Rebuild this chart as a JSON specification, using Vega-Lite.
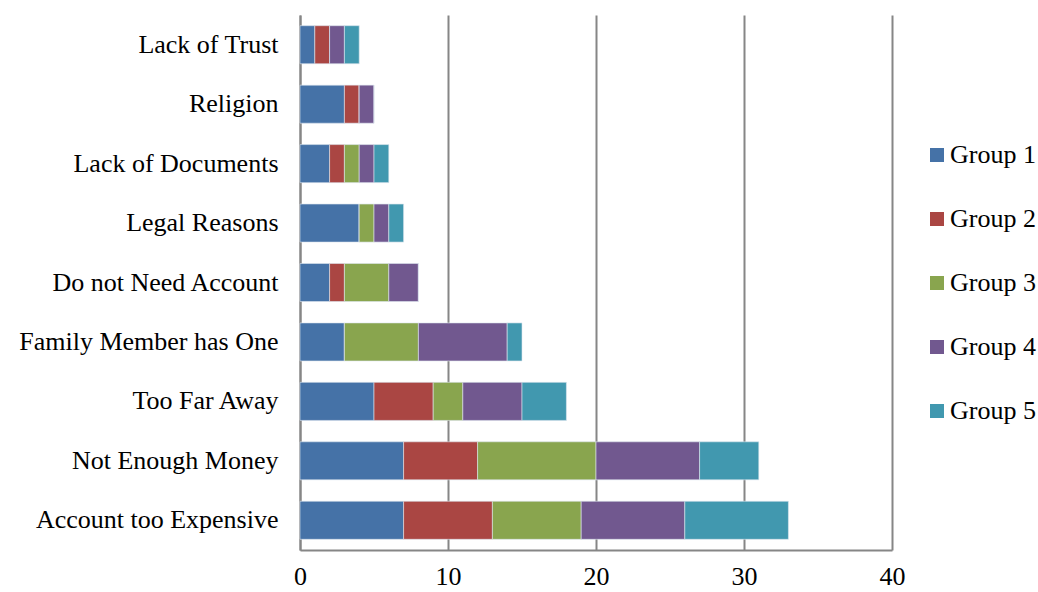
{
  "$schema": "https://vega.github.io/schema/vega-lite/v6.json",
  "autosize": {"type": "none"},
  "padding": {"left": 300, "top": 15, "right": 146, "bottom": 42},
  "width": 592,
  "height": 535,
  "background": "white",
  "config": {
    "font": "Liberation Serif",
    "view": {"stroke": null}
  },
  "data": {
    "values": [
      {"reason": "Lack of Trust", "group": "Group 1", "g": 1, "value": 1},
      {"reason": "Lack of Trust", "group": "Group 2", "g": 2, "value": 1},
      {"reason": "Lack of Trust", "group": "Group 3", "g": 3, "value": 0},
      {"reason": "Lack of Trust", "group": "Group 4", "g": 4, "value": 1},
      {"reason": "Lack of Trust", "group": "Group 5", "g": 5, "value": 1},
      {"reason": "Religion", "group": "Group 1", "g": 1, "value": 3},
      {"reason": "Religion", "group": "Group 2", "g": 2, "value": 1},
      {"reason": "Religion", "group": "Group 3", "g": 3, "value": 0},
      {"reason": "Religion", "group": "Group 4", "g": 4, "value": 1},
      {"reason": "Religion", "group": "Group 5", "g": 5, "value": 0},
      {"reason": "Lack of Documents", "group": "Group 1", "g": 1, "value": 2},
      {"reason": "Lack of Documents", "group": "Group 2", "g": 2, "value": 1},
      {"reason": "Lack of Documents", "group": "Group 3", "g": 3, "value": 1},
      {"reason": "Lack of Documents", "group": "Group 4", "g": 4, "value": 1},
      {"reason": "Lack of Documents", "group": "Group 5", "g": 5, "value": 1},
      {"reason": "Legal Reasons", "group": "Group 1", "g": 1, "value": 4},
      {"reason": "Legal Reasons", "group": "Group 2", "g": 2, "value": 0},
      {"reason": "Legal Reasons", "group": "Group 3", "g": 3, "value": 1},
      {"reason": "Legal Reasons", "group": "Group 4", "g": 4, "value": 1},
      {"reason": "Legal Reasons", "group": "Group 5", "g": 5, "value": 1},
      {"reason": "Do not Need Account", "group": "Group 1", "g": 1, "value": 2},
      {"reason": "Do not Need Account", "group": "Group 2", "g": 2, "value": 1},
      {"reason": "Do not Need Account", "group": "Group 3", "g": 3, "value": 3},
      {"reason": "Do not Need Account", "group": "Group 4", "g": 4, "value": 2},
      {"reason": "Do not Need Account", "group": "Group 5", "g": 5, "value": 0},
      {"reason": "Family Member has One", "group": "Group 1", "g": 1, "value": 3},
      {"reason": "Family Member has One", "group": "Group 2", "g": 2, "value": 0},
      {"reason": "Family Member has One", "group": "Group 3", "g": 3, "value": 5},
      {"reason": "Family Member has One", "group": "Group 4", "g": 4, "value": 6},
      {"reason": "Family Member has One", "group": "Group 5", "g": 5, "value": 1},
      {"reason": "Too Far Away", "group": "Group 1", "g": 1, "value": 5},
      {"reason": "Too Far Away", "group": "Group 2", "g": 2, "value": 4},
      {"reason": "Too Far Away", "group": "Group 3", "g": 3, "value": 2},
      {"reason": "Too Far Away", "group": "Group 4", "g": 4, "value": 4},
      {"reason": "Too Far Away", "group": "Group 5", "g": 5, "value": 3},
      {"reason": "Not Enough Money", "group": "Group 1", "g": 1, "value": 7},
      {"reason": "Not Enough Money", "group": "Group 2", "g": 2, "value": 5},
      {"reason": "Not Enough Money", "group": "Group 3", "g": 3, "value": 8},
      {"reason": "Not Enough Money", "group": "Group 4", "g": 4, "value": 7},
      {"reason": "Not Enough Money", "group": "Group 5", "g": 5, "value": 4},
      {"reason": "Account too Expensive", "group": "Group 1", "g": 1, "value": 7},
      {"reason": "Account too Expensive", "group": "Group 2", "g": 2, "value": 6},
      {"reason": "Account too Expensive", "group": "Group 3", "g": 3, "value": 6},
      {"reason": "Account too Expensive", "group": "Group 4", "g": 4, "value": 7},
      {"reason": "Account too Expensive", "group": "Group 5", "g": 5, "value": 7}
    ]
  },
  "mark": {"type": "bar", "stroke": "#dde6ee", "strokeWidth": 0.6},
  "encoding": {
    "y": {
      "field": "reason",
      "type": "nominal",
      "sort": ["Lack of Trust", "Religion", "Lack of Documents", "Legal Reasons", "Do not Need Account", "Family Member has One", "Too Far Away", "Not Enough Money", "Account too Expensive"],
      "scale": {"paddingInner": 0.36, "paddingOuter": 0.18},
      "axis": {
        "title": null,
        "ticks": false,
        "labelFontSize": 26,
        "labelColor": "black",
        "labelPadding": 22,
        "labelLimit": 400,
        "domainColor": "#868686",
        "domainWidth": 2,
        "grid": false
      }
    },
    "x": {
      "field": "value",
      "type": "quantitative",
      "stack": "zero",
      "scale": {"domain": [0, 40], "nice": false},
      "axis": {
        "title": null,
        "values": [0, 10, 20, 30, 40],
        "labelFontSize": 26,
        "labelColor": "black",
        "labelPadding": 13,
        "ticks": false,
        "domainColor": "#868686",
        "domainWidth": 2,
        "grid": true,
        "gridColor": "#868686",
        "gridWidth": 2,
        "labelFlush": false
      }
    },
    "color": {
      "field": "group",
      "type": "nominal",
      "scale": {
        "domain": ["Group 1", "Group 2", "Group 3", "Group 4", "Group 5"],
        "range": ["#4572A7", "#AA4643", "#89A54E", "#71588F", "#4198AF"]
      },
      "legend": {
        "title": null,
        "orient": "none",
        "legendX": 624,
        "legendY": 127,
        "symbolType": "square",
        "symbolSize": 196,
        "symbolStrokeWidth": 0,
        "labelFontSize": 26,
        "labelColor": "black",
        "labelOffset": 0,
        "rowPadding": 38,
        "labelLimit": 200
      }
    },
    "order": {"field": "g", "type": "quantitative"}
  }
}
